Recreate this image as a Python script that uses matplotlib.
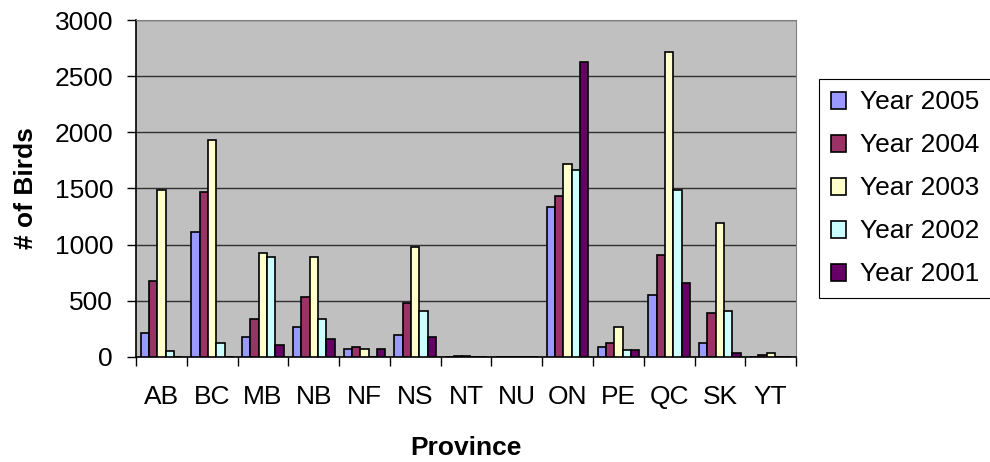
import matplotlib.pyplot as plt
from matplotlib.ticker import MultipleLocator, FixedLocator
import numpy as np

plt.rcParams['font.family'] = ['Liberation Sans', 'DejaVu Sans']

provinces = ['AB', 'BC', 'MB', 'NB', 'NF', 'NS', 'NT', 'NU', 'ON', 'PE', 'QC', 'SK', 'YT']
years = ['Year 2005', 'Year 2004', 'Year 2003', 'Year 2002', 'Year 2001']

y2005 = [213, 1117, 175, 264, 68, 193, 0, 0, 1331, 86, 548, 127, 0]
y2004 = [673, 1473, 338, 534, 86, 477, 12, 0, 1437, 127, 904, 388, 20]
y2003 = [1488, 1932, 922, 886, 68, 975, 12, 0, 1722, 264, 2718, 1189, 36]
y2002 = [50, 124, 886, 338, 0, 406, 0, 0, 1666, 65, 1488, 406, 0]
y2001 = [0, 0, 104, 157, 68, 175, 0, 0, 2629, 65, 655, 36, 0]

series = [y2005, y2004, y2003, y2002, y2001]
colors = ['#9999FF', '#993366', '#FFFFCC', '#CCFFFF', '#660066']
fs = 19

fig = plt.figure(figsize=(9.9, 4.62), dpi=100)
ax = fig.add_axes([0.1374, 0.2273, 0.6667, 0.7294])
ax.set_facecolor('#C0C0C0')

x = np.arange(len(provinces))
bw = 0.164
for i, (vals, c, lab) in enumerate(zip(series, colors, years)):
    ax.bar(x - 2 * bw + i * bw, vals, width=bw, color=c, edgecolor='black',
           linewidth=1.2, label=lab, zorder=3)

ax.set_xlim(-0.5, len(provinces) - 0.5)
ax.set_ylim(0, 3000)
ax.yaxis.set_major_locator(MultipleLocator(500))
ax.yaxis.grid(True, color='#303030', linewidth=1.0, zorder=1)

ax.set_xticks(x)
ax.set_xticklabels(provinces)
ax.xaxis.set_minor_locator(FixedLocator(np.arange(-0.5, len(provinces), 1.0)))
ax.tick_params(axis='x', which='major', length=0, pad=20.5, labelsize=fs)
ax.tick_params(axis='x', which='minor', length=6.5, width=1, direction='out')
ax.tick_params(axis='y', length=6.5, width=1, direction='out', labelsize=fs, pad=10)

for s in ['top', 'right']:
    ax.spines[s].set_color('#808080')
for s in ['left', 'bottom']:
    ax.spines[s].set_color('black')
    ax.spines[s].set_linewidth(1.2)

ax.set_ylabel('# of Birds', fontsize=fs, fontweight='bold', labelpad=12)
ax.set_xlabel('Province', fontsize=fs, fontweight='bold', labelpad=19)

leg = fig.legend(loc='center left', bbox_to_anchor=(0.827, 0.592), fontsize=fs,
                 frameon=True, fancybox=False, edgecolor='black', framealpha=1,
                 handlelength=0.6, handleheight=0.6, handletextpad=0.5,
                 labelspacing=0.72, borderpad=0.45, borderaxespad=0)
leg.get_frame().set_linewidth(0.8)

fig.savefig('out.png', dpi=100)
